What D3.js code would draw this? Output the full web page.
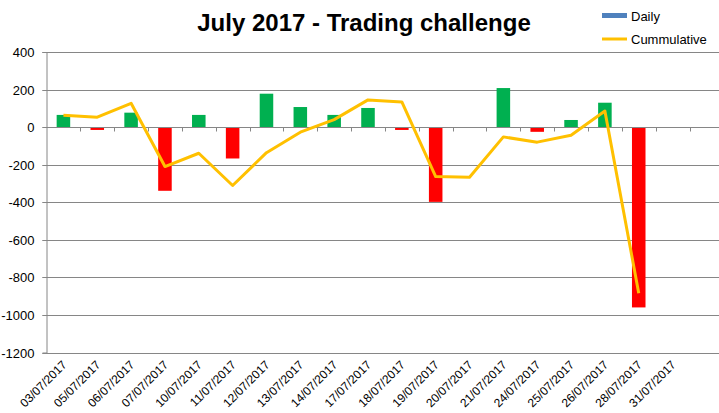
<!DOCTYPE html>
<html>
<head>
<meta charset="utf-8">
<script src="https://cdn.jsdelivr.net/npm/d3@7"></script>
<style>
  body { margin: 0; background: #fff; }
  text { font-family: "Liberation Sans", Arial, sans-serif; }
</style>
</head>
<body>
<div id="chart"></div>
<script>

var dates = ["03/07/2017", "05/07/2017", "06/07/2017", "07/07/2017", "10/07/2017",
             "11/07/2017", "12/07/2017", "13/07/2017", "14/07/2017", "17/07/2017",
             "18/07/2017", "19/07/2017", "20/07/2017", "21/07/2017", "24/07/2017",
             "25/07/2017", "26/07/2017", "28/07/2017", "31/07/2017"];
var daily = [65, -15, 77, -339, 65, -167, 178, 107, 65, 102,
             -15, -398, 0, 208, -25, 38, 130, -960, null];
var cumulative = [63, 53, 127, -210, -139, -311, -136, -27, 40, 145,
                  134, -263, -267, -52, -80, -43, 86, -884, null];
var yTicks = [400, 200, 0, -200, -400, -600, -800, -1000, -1200];

var W = 719, H = 413;
var plotLeft = 46.5, plotRight = 689.5, plotTop = 52, plotBottom = 352.5;

var svg = d3.select("#chart")
  .append("svg")
    .attr("width", W)
    .attr("height", H);

var x = d3.scaleBand()
    .domain(dates)
    .range([plotLeft, plotRight])
    .paddingInner(0.6)
    .paddingOuter(0.3);

var xb = d3.scaleBand()
    .domain(dates)
    .range([plotLeft, plotRight]);

var y = d3.scaleLinear()
    .domain([-1200, 400])
    .range([plotBottom, plotTop]);

function snap(v) { return Math.round(v) + 0.5; }

// gridlines
svg.append("g")
  .selectAll("line")
  .data(yTicks)
  .enter()
  .append("line")
    .attr("x1", plotLeft - 4)
    .attr("x2", W)
    .attr("y1", function(d) { return snap(y(d)); })
    .attr("y2", function(d) { return snap(y(d)); })
    .style("stroke", "#868686")
    .style("stroke-width", 1);

// y axis
var yAxis = svg.append("g")
    .attr("transform", "translate(" + plotLeft + ",0)")
    .call(d3.axisLeft(y).tickValues(yTicks).tickSize(4).tickPadding(8)
      .tickFormat(function(d) { return String(d); }));
yAxis.select(".domain").style("stroke", "#868686");
yAxis.selectAll(".tick line").style("stroke", "#868686");
yAxis.selectAll(".tick")
    .attr("transform", function(d) { return "translate(0," + snap(y(d)) + ")"; });
yAxis.selectAll("text")
    .style("font-size", "13px")
    .style("fill", "#000")
    .style("font-family", "'Liberation Sans', Arial, sans-serif");

// bars
svg.append("g")
  .selectAll("rect")
  .data(dates.map(function(d, i) { return {date: d, v: daily[i]}; })
              .filter(function(d) { return d.v; }))
  .enter()
  .append("rect")
    .attr("x", function(d) { return x(d.date); })
    .attr("width", x.bandwidth())
    .attr("y", function(d) { return y(Math.max(0, d.v)); })
    .attr("height", function(d) { return Math.abs(y(d.v) - y(0)); })
    .style("fill", function(d) { return d.v > 0 ? "#00B050" : "#FF0000"; });

// zero axis with category ticks
var zeroY = snap(y(0));
svg.append("line")
    .attr("x1", plotLeft).attr("x2", W)
    .attr("y1", zeroY).attr("y2", zeroY)
    .style("stroke", "#868686");
svg.append("g")
  .selectAll("line")
  .data(dates)
  .enter()
  .append("line")
    .attr("x1", function(d) { return snap(xb(d) + xb.bandwidth()); })
    .attr("x2", function(d) { return snap(xb(d) + xb.bandwidth()); })
    .attr("y1", zeroY)
    .attr("y2", zeroY + 4)
    .style("stroke", "#868686");

// category labels at the bottom
svg.append("g")
  .selectAll("text")
  .data(dates)
  .enter()
  .append("text")
    .attr("transform", function(d) {
      return "translate(" + (xb(d) + xb.bandwidth() / 2 + 4) + "," + (plotBottom + 13) + ") rotate(-45)";
    })
    .attr("text-anchor", "end")
    .style("font-size", "12px")
    .text(function(d) { return d; });

// cumulative line
var line = d3.line()
    .defined(function(d) { return d.v !== null; })
    .x(function(d) { return xb(d.date) + xb.bandwidth() / 2; })
    .y(function(d) { return y(d.v); });

svg.append("path")
    .datum(dates.map(function(d, i) { return {date: d, v: cumulative[i]}; }))
    .attr("d", line)
    .style("fill", "none")
    .style("stroke", "#FFC000")
    .style("stroke-width", 3)
    .style("stroke-linejoin", "round");

// title
svg.append("text")
    .attr("x", 364)
    .attr("y", 31)
    .attr("text-anchor", "middle")
    .style("font-size", "24px")
    .style("font-weight", "bold")
    .text("July 2017 - Trading challenge");

// legend
svg.append("rect").attr("x", 602).attr("y", 13).attr("width", 25).attr("height", 5).style("fill", "#4F81BD");
svg.append("line").attr("x1", 602).attr("x2", 627).attr("y1", 39).attr("y2", 39)
    .style("stroke", "#FFC000").style("stroke-width", 3);
svg.append("text").attr("x", 631).attr("y", 20.5).text("Daily").style("font-size", "13px");
svg.append("text").attr("x", 631).attr("y", 44).text("Cummulative").style("font-size", "13px");

</script>
</body>
</html>
